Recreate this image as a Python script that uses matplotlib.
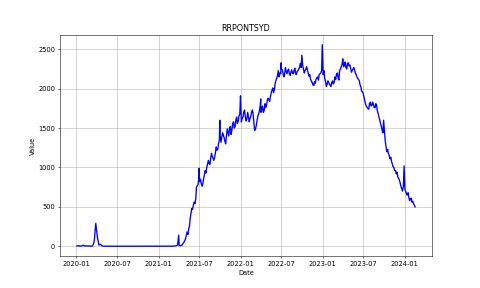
'''
    RRPONTSYD time series, weekly readings plus mid-week readings
    and quarter-end spikes
'''

from matplotlib import pyplot as plt
import pandas as pd
import numpy as np

# friday readings, billions
VALS_2020 = [2, 8, 1, 4, 12,          # jan
             3, 6, 1, 5,              # feb
             1, 3, 60, 290,           # mar
             120, 15, 25, 5,          # apr
             0, 1, 0, 0, 0,           # may
             0, 0, 0, 0,              # jun
             0, 0, 0, 0, 0,           # jul
             0, 0, 0, 0,              # aug
             0, 0, 0, 0,              # sep
             0, 0, 0, 0, 0,           # oct
             0, 0, 0, 0,              # nov
             0, 0, 0, 0]              # dec
VALS_2021 = [0, 0, 0, 0, 0,
             0, 0, 0, 0,
             1, 3, 5, 15,
             10, 5, 20, 50, 90,
             180, 210, 350, 480,
             520, 540, 750, 780,
             820, 800, 790, 900, 930,
             1040, 1050, 1110, 1140,
             1090, 1180, 1220, 1300,
             1400, 1370, 1420, 1340, 1390,
             1450, 1500, 1420, 1560,
             1500, 1600, 1560, 1650, 1910]
VALS_2022 = [1620, 1700, 1650, 1610,
             1650, 1620, 1700, 1680,
             1470, 1530, 1650, 1720,
             1700, 1780, 1720, 1760, 1850,
             1860, 1900, 1980, 1950,
             2060, 2130, 2230, 2200,
             2250, 2200, 2180, 2220, 2230,
             2190, 2210, 2200, 2230,
             2190, 2220, 2250, 2320, 2425,
             2250, 2230, 2280, 2200,
             2180, 2100, 2050, 2090,
             2120, 2150, 2180, 2200, 2560]
VALS_2023 = [2230, 2100, 2050, 2080,
             2040, 2080, 2060, 2150,
             2180, 2150, 2230, 2280, 2380,
             2300, 2270, 2320, 2290,
             2260, 2230, 2270, 2200,
             2150, 2120, 2050, 1970, 1940,
             1850, 1780, 1750, 1810,
             1780, 1830, 1760, 1810,
             1720, 1640, 1560, 1480, 1600,
             1340, 1200, 1180, 1110,
             1080, 1010, 960, 920,
             880, 840, 760, 700, 1020]
VALS_2024 = [700, 650, 620, 600,
             560, 540, 500]

# tuesday readings (the tuesday before each friday), from may 2021 on
MID_2021 = [140, 150, 260, 420,
            470, 560, 600, 770,
            880, 850, 760, 860, 960,
            1000, 1090, 1040, 1180,
            1120, 1130, 1260, 1230,
            1350, 1320, 1440, 1380, 1300,
            1490, 1400, 1520, 1480,
            1580, 1520, 1640, 1590, 1680]
MID_2022 = [1580, 1640, 1730, 1590,
            1700, 1580, 1650, 1730,
            1560, 1490, 1600, 1680,
            1790, 1740, 1700, 1810, 1790,
            1880, 1840, 1950, 2010,
            1990, 2110, 2170, 2150,
            2190, 2240, 2150, 2270, 2190,
            2250, 2170, 2240, 2190,
            2260, 2180, 2230, 2270, 2270,
            2290, 2200, 2250, 2240,
            2160, 2120, 2080, 2040,
            2070, 2140, 2110, 2190, 2230]
MID_2023 = [2180, 2130, 2030, 2100,
            2060, 2030, 2100, 2080,
            2120, 2200, 2110, 2250, 2310,
            2280, 2340, 2250, 2330,
            2300, 2210, 2250, 2240,
            2180, 2130, 2100, 2020, 1960,
            1890, 1800, 1760, 1740,
            1830, 1790, 1800, 1760,
            1790, 1680, 1600, 1520, 1440,
            1460, 1260, 1230, 1150,
            1130, 1040, 1000, 960,
            940, 860, 800, 730, 760]
MID_2024 = [720, 660, 680, 580,
            610, 570, 520]

# quarter ends that do not fall on a friday
SPIKE_DATES = ['2021-03-31', '2021-06-30', '2021-09-30',
               '2022-03-31', '2022-06-30']
SPIKE_VALS = [140, 990, 1600, 1870, 2330]


def main():
    ''' The main function '''
    vals = VALS_2020 + VALS_2021 + VALS_2022 + VALS_2023 + VALS_2024
    fridays = pd.date_range('2020-01-03', periods=len(vals), freq='W-FRI')

    mid = MID_2021 + MID_2022 + MID_2023 + MID_2024
    tuesdays = fridays[-len(mid):] - pd.Timedelta(days=3)

    s = pd.concat([pd.Series(vals, index=fridays),
                   pd.Series(mid, index=tuesdays),
                   pd.Series(SPIKE_VALS, index=pd.to_datetime(SPIKE_DATES))])
    s = s.sort_index()

    fig, ax = plt.subplots(1, 1, figsize=(10, 6), dpi=48)
    ax.plot(s.index, s.values, color='blue', linewidth=2.0)
    ax.set_title('RRPONTSYD')
    ax.set_xlabel('Date')
    ax.set_ylabel('Value')
    ax.grid(True)

    fig.savefig('out.png', dpi=48)
    plt.close(fig)


if __name__ == '__main__': main()
